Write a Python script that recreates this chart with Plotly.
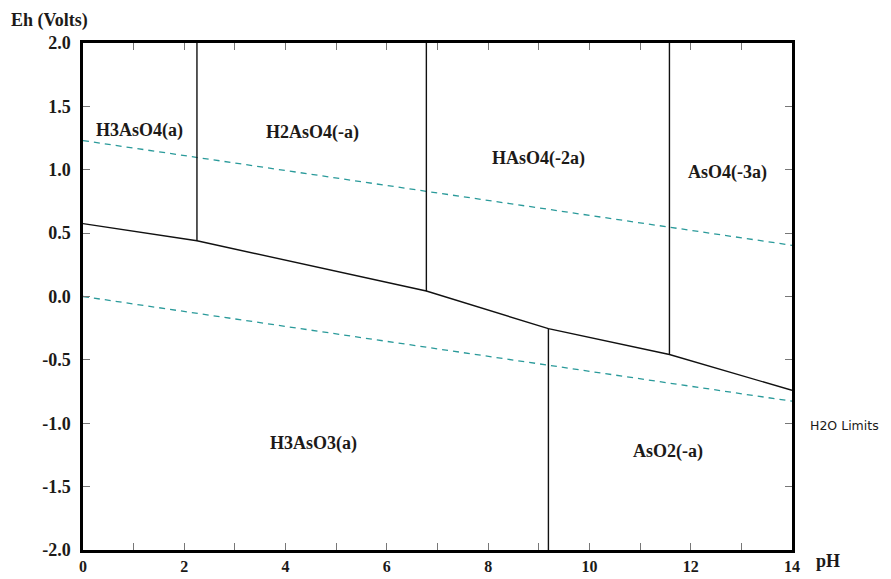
import plotly.graph_objects as go

# Arsenic Eh-pH (Pourbaix) diagram, 25 C
# main redox boundary As(V)/As(III), piecewise through the pKa breaks
redox_ph = [0.0, 2.25, 6.78, 9.19, 11.58, 14.0]
redox_eh = [0.575, 0.44, 0.043, -0.254, -0.458, -0.74]

# vertical acid/base boundaries: (pH, Eh from, Eh to)
acid_ph = [2.25, 6.78, 11.58, 9.19]
acid_eh_lo = [0.44, 0.043, -0.458, -2.0]
acid_eh_hi = [2.0, 2.0, 2.0, -0.254]

# stability limits of water
water_ph = [0.0, 14.0]
water_upper_eh = [1.23, 0.404]
water_lower_eh = [0.0, -0.826]

# species field labels
species = ["H3AsO4(a)", "H2AsO4(-a)", "HAsO4(-2a)", "AsO4(-3a)", "H3AsO3(a)", "AsO2(-a)"]
species_ph = [1.12, 4.53, 9.0, 12.73, 4.55, 11.55]
species_eh = [1.31, 1.29, 1.09, 0.98, -1.16, -1.22]

y_ticks = [2.0, 1.5, 1.0, 0.5, 0.0, -0.5, -1.0, -1.5, -2.0]
x_ticks = [0, 2, 4, 6, 8, 10, 12, 14]

SERIF = "Liberation Serif"
INK = "#1c1a18"
TEAL = "#2a9a9a"

fig = go.Figure()

fig.add_trace(go.Scatter(x=water_ph, y=water_upper_eh, mode="lines",
                         line=dict(color=TEAL, width=1.3, dash="6px,5px"),
                         hoverinfo="skip", showlegend=False))
fig.add_trace(go.Scatter(x=water_ph, y=water_lower_eh, mode="lines",
                         line=dict(color=TEAL, width=1.3, dash="6px,5px"),
                         hoverinfo="skip", showlegend=False))

fig.add_trace(go.Scatter(x=redox_ph, y=redox_eh, mode="lines",
                         line=dict(color="#111111", width=1.4),
                         hoverinfo="skip", showlegend=False))

for ph, lo, hi in zip(acid_ph, acid_eh_lo, acid_eh_hi):
    fig.add_trace(go.Scatter(x=[ph, ph], y=[lo, hi], mode="lines",
                             line=dict(color="#111111", width=1.4),
                             hoverinfo="skip", showlegend=False))

for name, ph, eh in zip(species, species_ph, species_eh):
    fig.add_annotation(x=ph, y=eh, text=name, showarrow=False,
                       font=dict(family=SERIF, size=18, color=INK, weight="bold"))

fig.add_annotation(x=1.0, xref="paper", xshift=16, xanchor="left",
                   y=-1.0, yref="y", yshift=-2, text="H2O Limits", showarrow=False,
                   font=dict(family="DejaVu Sans", size=12.5, color=INK))

fig.add_annotation(x=0, xref="paper", xshift=-74, xanchor="left",
                   y=1, yref="paper", yshift=23, yanchor="middle",
                   text="Eh (Volts)", showarrow=False,
                   font=dict(family=SERIF, size=18, color=INK, weight="bold"))
fig.add_annotation(x=1, xref="paper", xshift=22, xanchor="left",
                   y=0, yref="paper", yshift=-11, yanchor="middle",
                   text="pH", showarrow=False,
                   font=dict(family=SERIF, size=18, color=INK, weight="bold"))

axis_common = dict(showgrid=False, zeroline=False, showline=True, mirror="ticks",
                   linecolor="#000000", linewidth=2.5, ticks="inside", ticklen=7,
                   tickcolor="#777777", tickwidth=1, automargin=False)

fig.update_xaxes(range=[0, 14], tickvals=x_ticks, ticktext=[str(v) for v in x_ticks],
                 minor=dict(dtick=1, ticks="inside", ticklen=7, tickcolor="#777777"),
                 ticklabelstandoff=0,
                 tickfont=dict(family=SERIF, size=16, color=INK, weight="bold"),
                 **axis_common)
fig.update_yaxes(range=[-2.0, 2.0], tickvals=y_ticks,
                 ticktext=[f"{v:.1f}" for v in y_ticks],
                 ticklabelstandoff=6,
                 tickfont=dict(family=SERIF, size=18, color=INK, weight="bold"),
                 **axis_common)

fig.update_layout(width=891, height=579, plot_bgcolor="white", paper_bgcolor="white",
                  margin=dict(l=83, r=99, t=43, b=29), showlegend=False)

fig.write_html("out.html")
